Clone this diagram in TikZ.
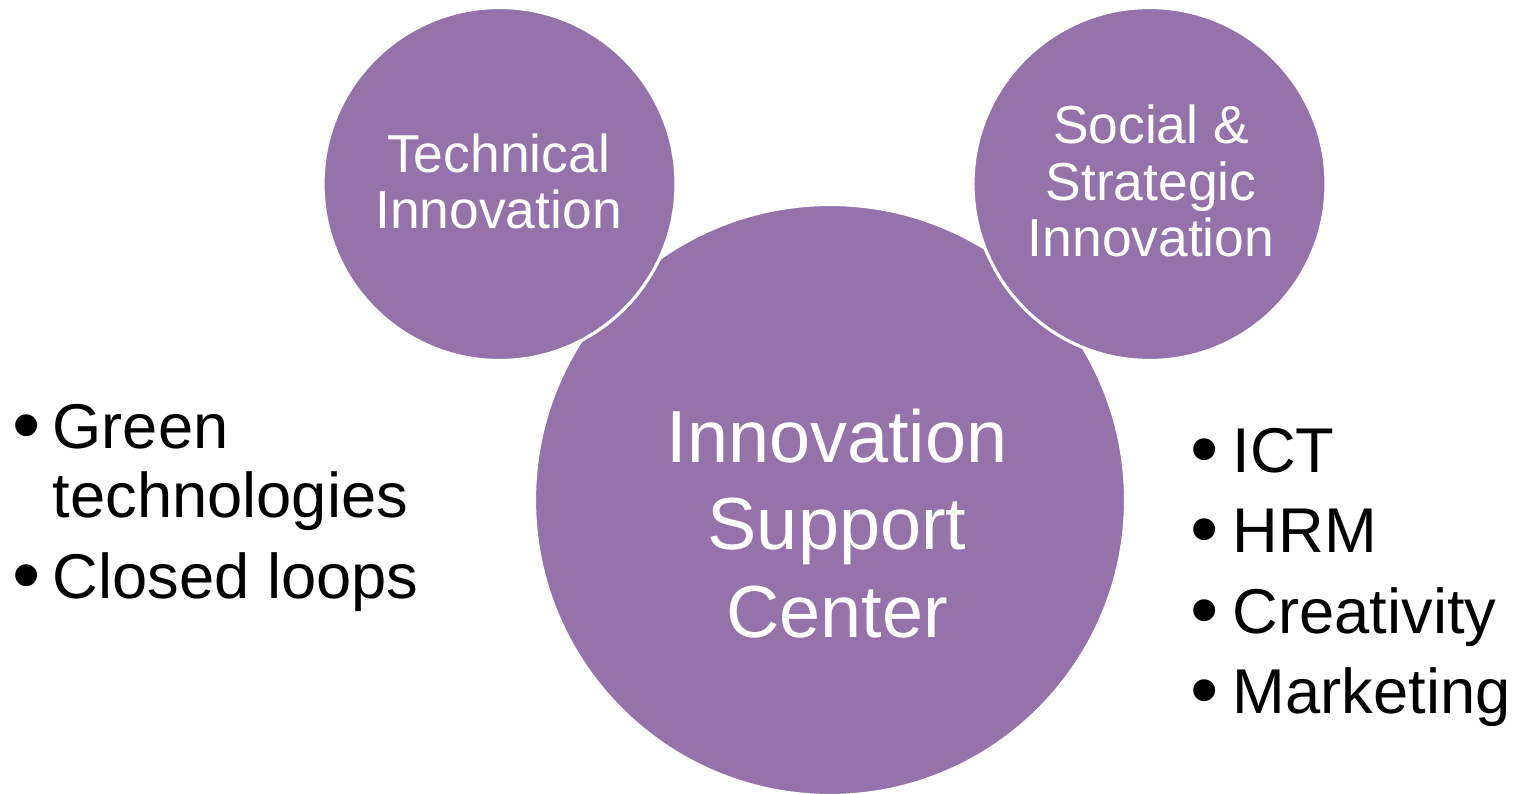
\documentclass[tikz,border=0pt]{standalone}
\usepackage{fontspec}
\setmainfont{Liberation Sans}
\definecolor{iscpurple}{RGB}{150,114,170}

\begin{document}
\begin{tikzpicture}[
    bubble/.style={draw=white, fill=iscpurple, circle, line width=0.9pt, inner sep=0pt},
    bubbletext/.style={text=white, align=center, inner sep=0pt, font=\fontsize{15.2}{16}\selectfont},
    centertext/.style={text=white, align=center, inner sep=0pt, font=\fontsize{21}{25}\selectfont},
    itemtext/.style={anchor=base west, inner sep=0pt, font=\fontsize{18}{21}\selectfont},
    bulletmark/.style={anchor=base west, inner sep=0pt, font=\fontsize{23}{21}\selectfont}
    ]

    \useasboundingbox (0, 0) rectangle (15.13, 7.93);

    % the three bubbles, small ones on top
    \node[bubble, minimum size=5.91cm] (isc) at (8.30, 2.93) {};
    \node[bubble, minimum size=3.53cm] (tech) at (4.995, 6.09) {};
    \node[bubble, minimum size=3.53cm] (soc) at (11.495, 6.09) {};

    \node[bubbletext] (techlabel) at (4.985, 6.113) {Technical\\Innovation};
    \node[bubbletext] (soclabel) at (11.51, 6.12) {Social \&\\Strategic\\Innovation};
    \node[centertext] (isclabel) at (8.37, 2.694) {Innovation\\Support\\Center};

    % left list
    \node[bulletmark] (lb1) at (0.115, 3.41) {•};
    \node[itemtext] (green) at (0.52, 3.45) {Green};
    \node[itemtext] (greentech) at (0.52, 2.76) {technologies};
    \node[bulletmark] (lb2) at (0.115, 1.91) {•};
    \node[itemtext] (closed) at (0.52, 1.95) {Closed loops};

    % right list
    \node[bulletmark] (rb1) at (11.895, 3.17) {•};
    \node[itemtext] (ict) at (12.32, 3.21) {ICT};
    \node[bulletmark] (rb2) at (11.895, 2.37) {•};
    \node[itemtext] (hrm) at (12.32, 2.41) {HRM};
    \node[bulletmark] (rb3) at (11.895, 1.56) {•};
    \node[itemtext] (creat) at (12.32, 1.60) {Creativity};
    \node[bulletmark] (rb4) at (11.895, 0.76) {•};
    \node[itemtext] (mkt) at (12.32, 0.80) {Marketing};

\end{tikzpicture}
\end{document}
